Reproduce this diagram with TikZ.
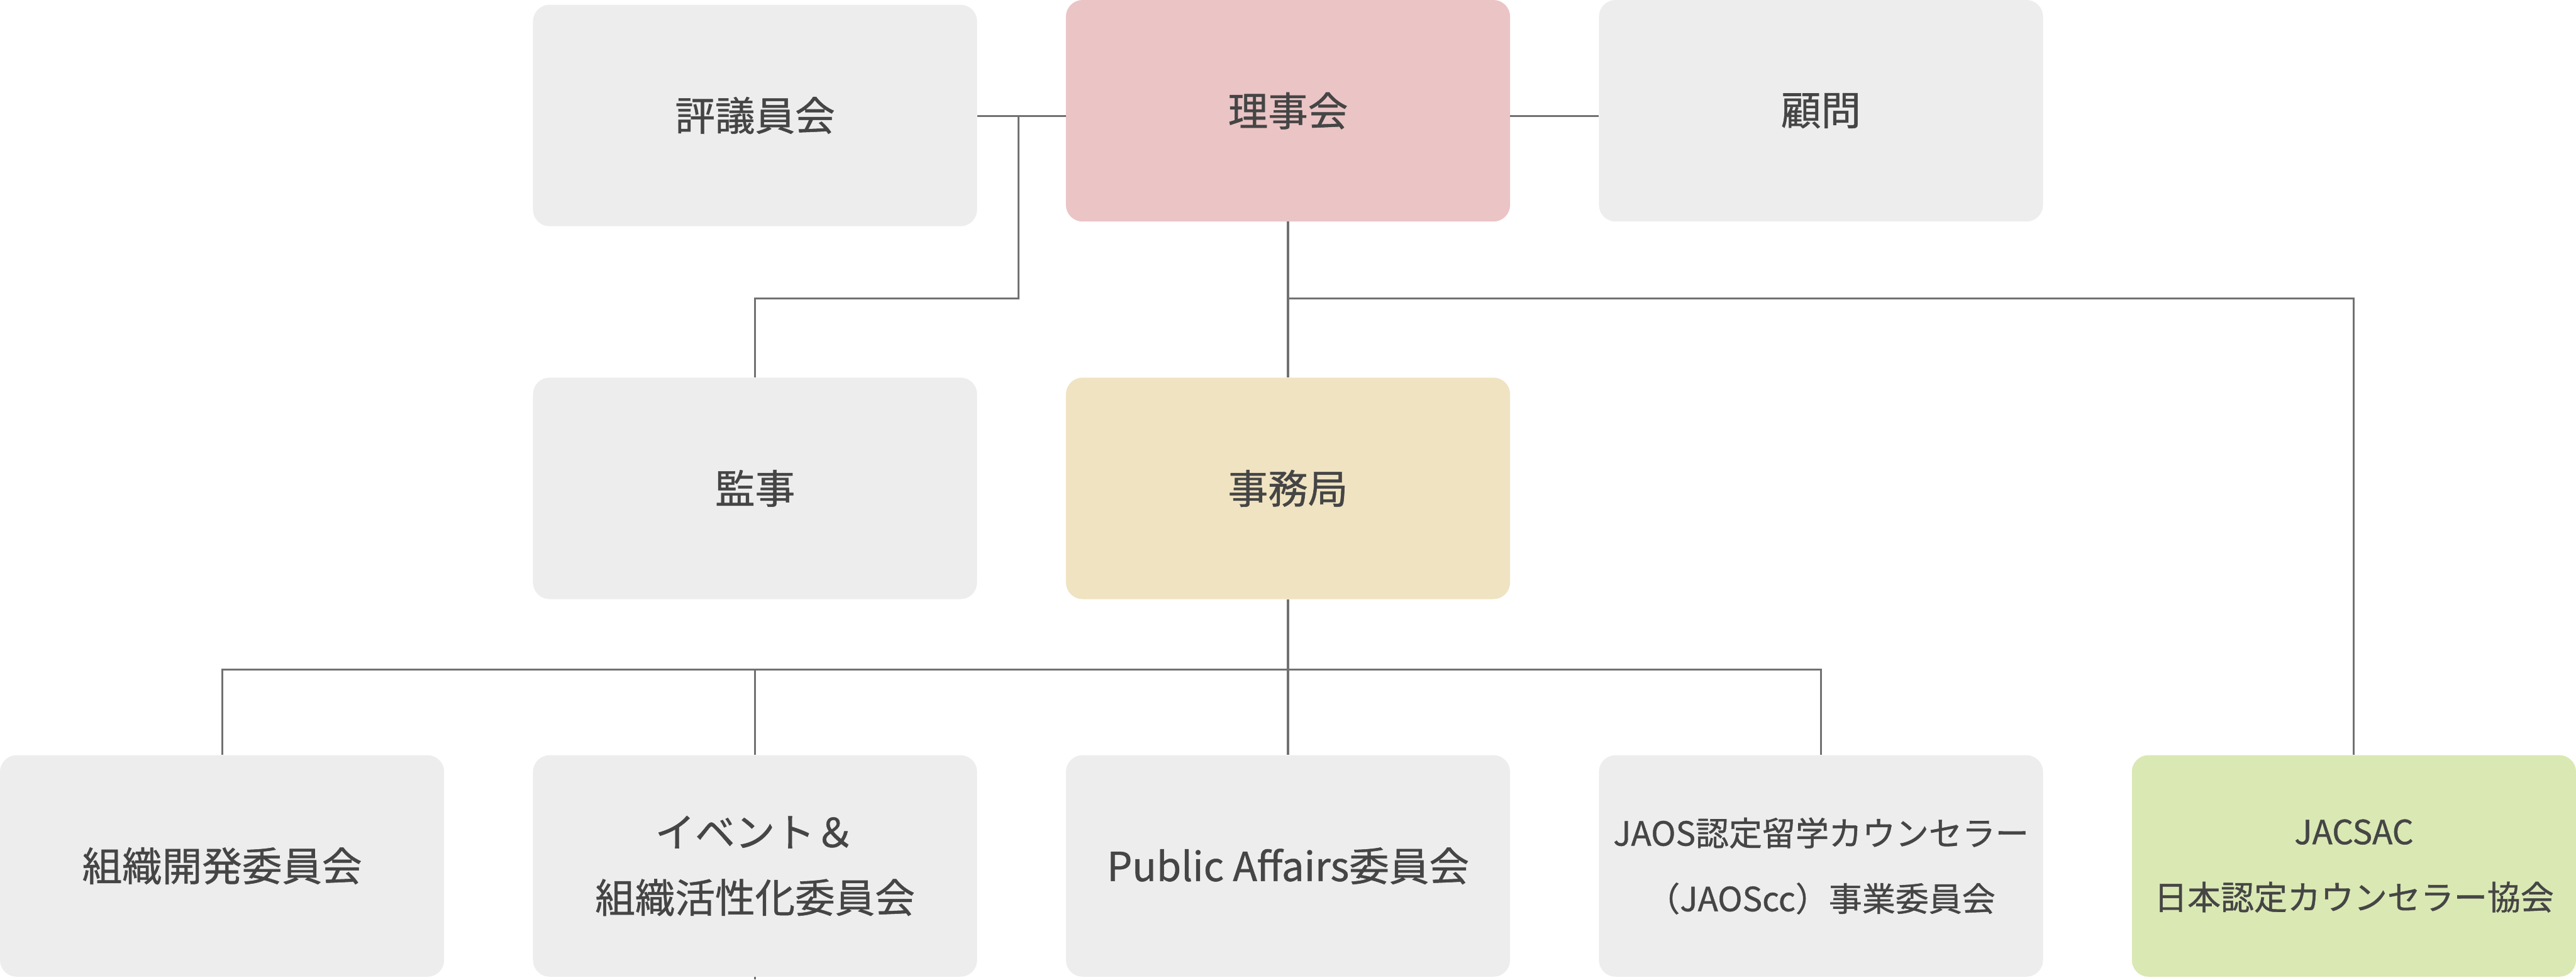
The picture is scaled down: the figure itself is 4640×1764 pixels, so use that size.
\documentclass[tikz,border=0pt]{standalone}
\usepackage{fontspec}
\newfontfamily\cjk[FakeBold=0.8]{Noto Sans CJK JP}
\definecolor{boxgray}{HTML}{EDEDED}
\definecolor{boxpink}{HTML}{EBC4C5}
\definecolor{boxbeige}{HTML}{F0E3C1}
\definecolor{boxgreen}{HTML}{DAE8B4}
\definecolor{txt}{HTML}{454545}
\definecolor{linec}{HTML}{717171}
\begin{document}
\begin{tikzpicture}[x=1pt,y=-1pt,
  orgbox/.style={rounded corners=30pt, minimum width=800pt, minimum height=399pt,
    inner sep=0pt, text=txt, align=center, font=\cjk\fontsize{72}{118}\selectfont},
  smalltext/.style={font=\cjk\fontsize{60}{118}\selectfont},
  conn/.style={draw=linec, line width=3.5pt}]
\useasboundingbox (0,0) rectangle (4640,1764);
% row 1
\node[orgbox, fill=boxgray] (hyo) at (1360,208) {評議員会};
\node[orgbox, fill=boxpink] (riji) at (2320,199.5) {理事会};
\node[orgbox, fill=boxgray] (komon) at (3280,199.5) {顧問};
% row 2
\node[orgbox, fill=boxgray] (kanji) at (1360,879.5) {監事};
\node[orgbox, fill=boxbeige] (jim) at (2320,879.5) {事務局};
% row 3
\node[orgbox, fill=boxgray] (soshiki) at (400,1559.5) {組織開発委員会};
\node[orgbox, fill=boxgray] (event) at (1360,1559.5) {イベント＆\\組織活性化委員会};
\node[orgbox, fill=boxgray] (pub) at (2320,1559.5) {Public Affairs委員会};
\node[orgbox, fill=boxgray, smalltext] (jaos) at (3280,1559.5) {JAOS認定留学カウンセラー\\（JAOScc）事業委員会};
\node[orgbox, fill=boxgreen, smalltext] (jacsac) at (4240,1559.5) {JACSAC\\日本認定カウンセラー協会};
% junctions
\coordinate (j1) at (1835,209);
\coordinate (j2) at (1835,538);
\coordinate (j3) at (2320,538);
\coordinate (bus) at (2320,1206);
\coordinate (tickend) at (1360,1764);
% connectors
\draw[conn] (hyo.east |- j1) -- (riji.west |- j1);
\draw[conn] (riji.east |- j1) -- (komon.west |- j1);
\draw[conn] (j1) -- (j2) -| (kanji.north);
\draw[conn] (riji.south) -- (jim.north);
\draw[conn] (j3) -| (jacsac.north);
\draw[conn] (jim.south) -- (pub.north);
\draw[conn] (soshiki.north) |- (bus) -| (jaos.north);
\draw[conn] (event.north) -- (event.north |- bus);
\draw[conn] (event.south) -- (tickend);
\end{tikzpicture}
\end{document}
